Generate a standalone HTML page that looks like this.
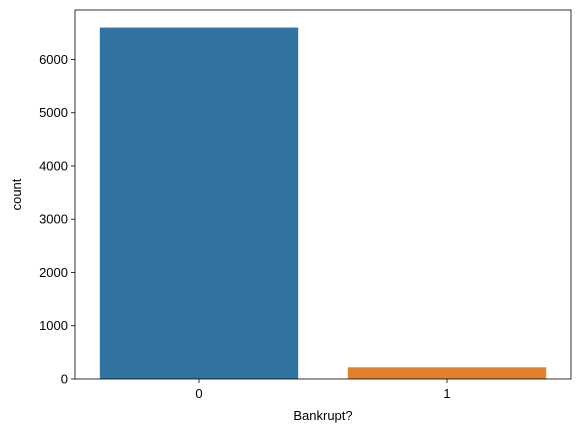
<!DOCTYPE html>
<html><head><meta charset="utf-8"><style>
body{margin:0;background:#fff;width:580px;height:432px;overflow:hidden}
text{font-family:"Liberation Sans","DejaVu Sans",sans-serif;font-size:13px;fill:#000}
</style></head><body>
<svg id="c" width="580" height="432"></svg>
<script>
const categories=["0","1"];
const counts=[6599,220];
const yTicks=[0,1000,2000,3000,4000,5000,6000];
const colors=["#3274a1","#e1812c"];
const L=75,R=571,T=10,B=379,ymax=Math.max(...counts)*1.05;
const ns="http://www.w3.org/2000/svg",svg=document.getElementById('c');
function y(v){return B-(v/ymax)*(B-T);}
function x(i){return L+(i+0.5)*(R-L)/categories.length;}
const bw=0.8*(R-L)/categories.length;
function mk(t,a,p){const e=document.createElementNS(ns,t);for(const k in a)e.setAttribute(k,a[k]);(p||svg).appendChild(e);return e;}
counts.forEach((v,i)=>{const r=mk('rect',{x:x(i)-bw/2,y:y(v),width:bw,height:B-y(v),fill:colors[i]});

});
yTicks.forEach(t=>{const g=mk('g',{});


mk('line',{x1:L-4,x2:L,y1:y(t),y2:y(t),stroke:'#000','stroke-width':0.8},g);
const tx=mk('text',{x:L-7,y:y(t)+4.5,'text-anchor':'end'},g);tx.textContent=t;});
categories.forEach((c,i)=>{const g=mk('g',{});


mk('line',{x1:x(i),x2:x(i),y1:B,y2:B+4,stroke:'#000','stroke-width':0.8},g);
const tx=mk('text',{x:x(i),y:B+19,'text-anchor':'middle'},g);tx.textContent=c;});
const f=mk('rect',{x:L,y:T,width:R-L,height:B-T,fill:'none',stroke:'#000','stroke-width':0.8});


const xl=mk('text',{x:(L+R)/2,y:B+41,'text-anchor':'middle'});xl.textContent='Bankrupt?';


const yl=mk('text',{x:0,y:0,'text-anchor':'middle',transform:`translate(21,${(T+B)/2}) rotate(-90)`});yl.textContent='count';


</script>
</body></html>
